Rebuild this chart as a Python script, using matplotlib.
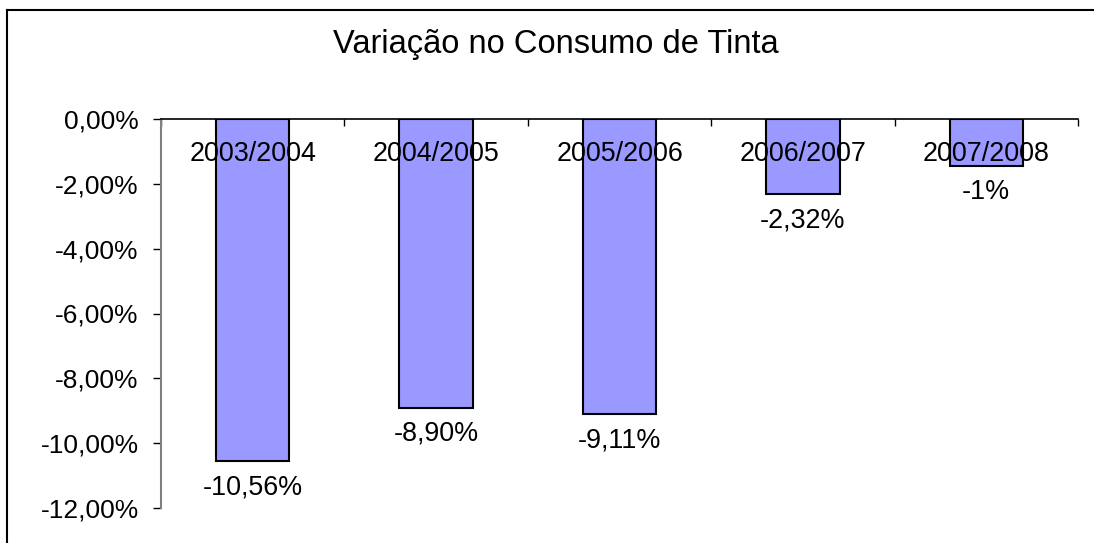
import numpy as np
import matplotlib.pyplot as plt
from matplotlib.lines import Line2D

# data
periodos = ['2003/2004', '2004/2005', '2005/2006', '2006/2007', '2007/2008']
variacao = [-10.56, -8.90, -9.11, -2.32, -1.45]
rotulos = ['-10,56%', '-8,90%', '-9,11%', '-2,32%', '-1%']
yticks = [0, -2, -4, -6, -8, -10, -12]

plt.rcParams['font.family'] = ['Liberation Sans', 'DejaVu Sans']

fig = plt.figure(figsize=(10.94, 5.43), dpi=100)
ax = fig.add_axes([161/1094, 1 - 508/543, (1078 - 161)/1094, (508 - 119)/543])

x = np.arange(len(periodos))
ax.bar(x, variacao, width=0.4, color='#9999FF', edgecolor='black', linewidth=1.5, zorder=2)

ax.set_xlim(-0.5, len(periodos) - 0.5)
ax.set_ylim(-12, 0)

# y axis
ax.set_yticks(yticks)
ax.set_yticklabels([('%.2f%%' % v).replace('.', ',') for v in yticks])
ax.tick_params(axis='y', length=6, width=1, pad=10, labelsize=19, colors='black')
ax.spines['left'].set_color('#808080')
ax.spines['left'].set_linewidth(1.5)

# x axis at the top (value 0)
ax.spines['bottom'].set_visible(False)
ax.spines['right'].set_visible(False)
ax.spines['top'].set_color('black')
ax.spines['top'].set_linewidth(1.2)
ax.xaxis.tick_top()
ax.set_xticks(np.arange(-0.5, len(periodos), 1.0))
ax.set_xticklabels([])
ax.tick_params(axis='x', direction='in', length=5, width=1)

# category labels just under the zero line
for xi, p in zip(x, periodos):
    ax.annotate(p, (xi, 0), xytext=(0, -25.5), textcoords='offset points',
                ha='center', va='center', fontsize=19.4, zorder=3)

# value labels under bars
for xi, v, r in zip(x, variacao, rotulos):
    ax.annotate(r, (xi, v), xytext=(0, -19), textcoords='offset points',
                ha='center', va='center', fontsize=19.4)

fig.text(556/1094, 1 - 45/543, 'Variação no Consumo de Tinta', ha='center', va='center', fontsize=23.5)

# chart frame (left and top)
fig.add_artist(Line2D([7/1094, 7/1094], [0, 1 - 10/543], color='black', linewidth=1.5))
fig.add_artist(Line2D([7/1094, 1], [1 - 10/543, 1 - 10/543], color='black', linewidth=1.5))

fig.savefig('out.png', dpi=100)
